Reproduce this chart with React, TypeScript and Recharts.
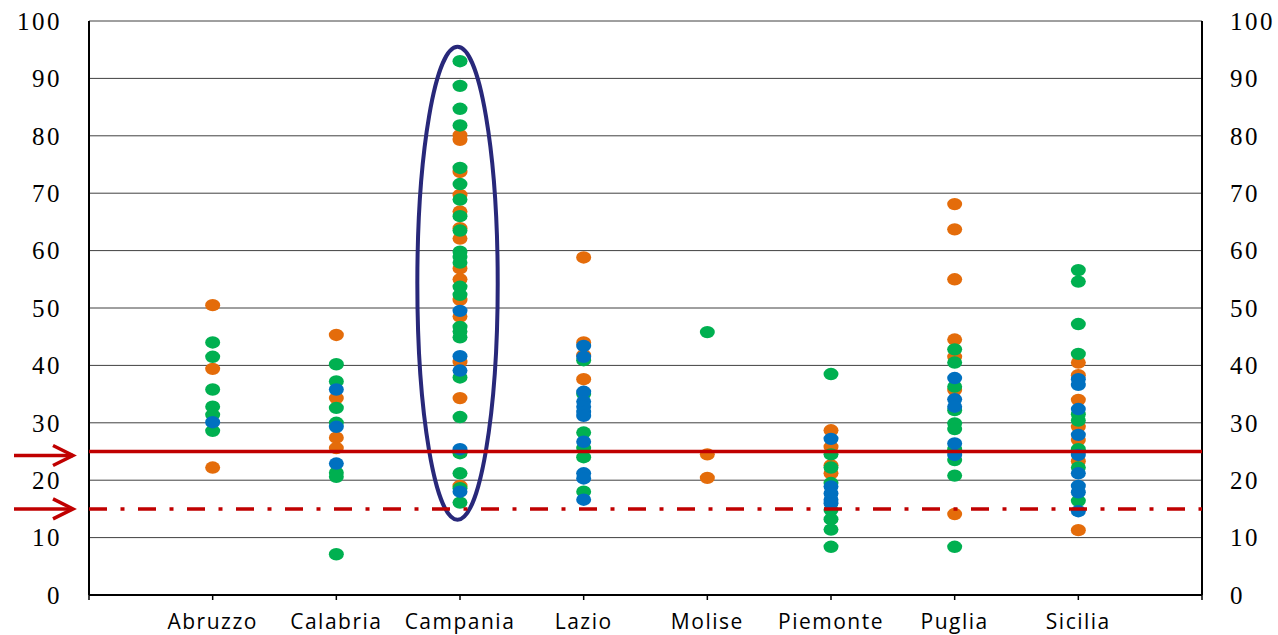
import React from 'react';
import { ScatterChart, Scatter, XAxis, YAxis, CartesianGrid, ReferenceLine, ReferenceArea } from 'recharts';

const regions = ['Abruzzo', 'Calabria', 'Campania', 'Lazio', 'Molise', 'Piemonte', 'Puglia', 'Sicilia'];
const xTicks = [0, 1, 2, 3, 4, 5, 6, 7, 8, 9];
const yTicks = [0, 10, 20, 30, 40, 50, 60, 70, 80, 90, 100];

// one list per region, same order as regions
const orangeValues = [
  [50.5, 39.4, 22.2],
  [45.3, 34.3, 27.4, 25.6],
  [80.1, 79.3, 73.7, 69.7, 66.8, 63.9, 62.1, 56.9, 55.0, 51.4, 48.5, 40.6, 34.3, 19.0],
  [58.8, 44.0, 41.8, 37.6],
  [24.5, 20.4],
  [28.7, 25.8, 22.6, 21.2],
  [68.1, 63.7, 55.0, 44.5, 41.5, 35.7, 14.1],
  [40.5, 38.3, 34.0, 29.3, 27.0, 23.3, 11.3],
];
const greenValues = [
  [44.0, 41.5, 35.8, 32.8, 31.4, 28.6],
  [40.2, 37.2, 32.6, 30.0, 21.3, 20.6, 7.1],
  [93.0, 88.7, 84.7, 81.8, 74.4, 71.6, 68.9, 66.0, 63.5, 59.8, 58.9, 57.9, 53.7, 52.3, 46.7, 45.9, 44.9, 37.9, 31.0, 24.7, 21.2, 18.6, 16.1],
  [40.9, 35.0, 28.3, 25.6, 24.0, 18.0],
  [45.8],
  [38.5, 24.5, 22.2, 19.5, 14.8, 13.2, 11.4, 8.4],
  [42.8, 40.5, 36.3, 32.2, 29.9, 28.9, 25.4, 23.5, 20.8, 8.4],
  [56.6, 54.6, 47.2, 42.0, 31.5, 30.4, 25.4, 22.2, 16.4],
];
const blueValues = [
  [30.1],
  [35.8, 29.3, 22.9],
  [49.5, 41.6, 39.1, 25.4, 18.0],
  [43.4, 41.5, 35.4, 33.7, 32.8, 31.9, 31.2, 26.7, 21.2, 20.3, 16.6],
  [],
  [27.2, 18.9, 17.7, 16.6, 16.0],
  [37.8, 34.1, 32.8, 26.4, 24.4],
  [37.6, 36.6, 32.4, 27.9, 24.4, 21.2, 19.0, 17.9, 14.6],
];

const toPoints = (lists: number[][]) =>
  lists.flatMap((vals, i) => vals.map((v) => ({ x: i + 1, y: v })));

const orangeData = toPoints(orangeValues);
const greenData = toPoints(greenValues);
const blueData = toPoints(blueValues);

const RED = '#C00000';

const Dot = (props: any) => {
  const { cx, cy, fill } = props;
  if (cx == null || cy == null) return null;
  return <ellipse cx={cx} cy={cy} rx={7.5} ry={6.2} fill={fill} />;
};

// threshold line with an arrow pointing at it from outside the plot
const arrowLine = (dash: string | undefined, arrowDy: number) => (props: any) => {
  const { x1, y1, x2, y2 } = props;
  const ay = y1 + arrowDy;
  return (
    <g>
      <line x1={x1} y1={y1} x2={x2} y2={y2} stroke={RED} strokeWidth={3.5} strokeDasharray={dash} />
      <line x1={x1 - 75} y1={ay} x2={x1 - 16} y2={ay} stroke={RED} strokeWidth={3.5} />
      <polyline
        points={`${x1 - 36},${ay - 10} ${x1 - 16},${ay} ${x1 - 36},${ay + 10}`}
        fill="none"
        stroke={RED}
        strokeWidth={3.5}
      />
    </g>
  );
};

const EllipseShape = (props: any) => {
  const { x, y, width, height } = props;
  return (
    <ellipse
      cx={x + width / 2}
      cy={y + height / 2}
      rx={width / 2}
      ry={height / 2}
      fill="none"
      stroke="#28287A"
      strokeWidth={4}
    />
  );
};

const serifTick = { fill: '#000', fontSize: 25, fontFamily: '"Liberation Serif", serif', letterSpacing: 2.5 };

export default function App() {
  return (
    <div style={{ position: 'absolute', left: 0, top: 0, background: '#fff' }}>
      <ScatterChart
        width={1278}
        height={635}
        margin={{ top: 21, right: 0, left: 0, bottom: 0 }}
      >
        <CartesianGrid horizontal vertical={false} stroke="#404040" strokeWidth={1} yAxisId="left" />
        <XAxis
          type="number"
          dataKey="x"
          domain={[0, 9]}
          ticks={xTicks}
          interval={0}
          height={40}
          tickFormatter={(v: number) => regions[v - 1] ?? ''}
          tick={{ fill: '#000', fontSize: 21, fontFamily: '"Open Sans", sans-serif', letterSpacing: 1.5 }}
          axisLine={{ stroke: '#000', strokeWidth: 2 }}
          tickLine={{ stroke: '#000', strokeWidth: 1.5 }}
          tickSize={5}
          tickMargin={14}
        />
        <YAxis
          yAxisId="left"
          type="number"
          dataKey="y"
          domain={[0, 100]}
          ticks={yTicks}
          interval={0}
          width={89}
          tick={serifTick}
          axisLine={{ stroke: '#000', strokeWidth: 2 }}
          tickLine={false}
          tickSize={0}
          tickMargin={27}
        />
        <YAxis
          yAxisId="right"
          orientation="right"
          type="number"
          dataKey="y"
          domain={[0, 100]}
          ticks={yTicks}
          interval={0}
          width={76}
          tick={serifTick}
          axisLine={{ stroke: '#000', strokeWidth: 2 }}
          tickLine={false}
          tickSize={0}
          tickMargin={28}
        />
        <Scatter yAxisId="left" data={orangeData} fill="#E46C0A" shape={Dot} isAnimationActive={false} />
        <Scatter yAxisId="left" data={greenData} fill="#00B050" shape={Dot} isAnimationActive={false} />
        {/* same 0-100 domain as the left axis, so the right axis gets its ticks */}
        <Scatter yAxisId="right" data={blueData} fill="#0070C0" shape={Dot} isAnimationActive={false} />
        <ReferenceArea
          yAxisId="left"
          x1={2.655}
          x2={3.305}
          y1={13.1}
          y2={95.5}
          shape={EllipseShape}
        />
        <ReferenceLine yAxisId="left" y={25} shape={arrowLine(undefined, 4)} zIndex={1000} />
        <ReferenceLine yAxisId="left" y={15} shape={arrowLine('18 13.5 4 13.5', 0)} zIndex={1000} />
      </ScatterChart>
    </div>
  );
}
